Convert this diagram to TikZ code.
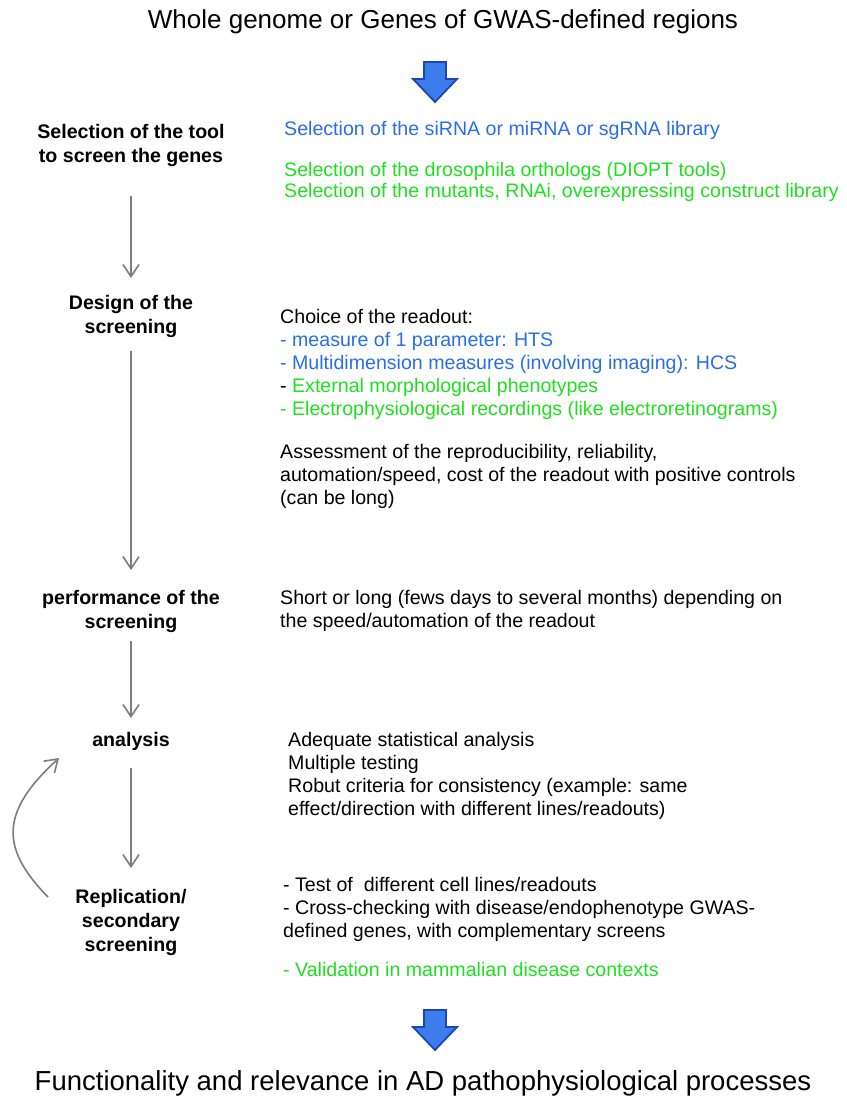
\documentclass[tikz,border=0pt]{standalone}
\usepackage{fontspec}
\setmainfont{Liberation Sans}
\usetikzlibrary{arrows.meta}
\definecolor{txtblue}{RGB}{40,110,235}
\definecolor{txtgreen}{RGB}{30,225,30}
\definecolor{arrfill}{RGB}{60,125,235}
\definecolor{arrline}{RGB}{25,70,190}
\definecolor{flowgray}{RGB}{125,125,125}

\begin{document}
\begin{tikzpicture}[x=1pt,y=-1pt,>={Straight Barb[length=12pt,width=16pt]},
  every node/.style={inner sep=0pt},
  headline/.style={font=\fontsize{26}{30}\selectfont,anchor=base},
  stage/.style={font=\fontsize{19.6}{24}\selectfont\bfseries,align=center,anchor=north},
  info/.style={font=\fontsize{19.6}{23}\selectfont,align=left,anchor=north west},
  flow/.style={draw=flowgray,line width=1.6pt,->},
  bigarrow/.style={fill=arrfill,draw=arrline,line width=1.8pt}]
  \useasboundingbox (0,0) rectangle (846,1103);
  % titles and block arrows
  \node[headline] (genome) at (443,28) {Whole genome or Genes of GWAS-defined regions};
  \node[headline,font=\fontsize{27.5}{30}\selectfont] (relevance) at (423,1090) {Functionality and relevance in AD pathophysiological processes};
  \foreach \yy in {62,1010}
    \filldraw[bigarrow] (424,\yy) -- ++(22,0) -- ++(0,17) -- ++(11,0) -- ++(-22,23) -- ++(-22,-23) -- ++(11,0) -- cycle;
  % steps on the left
  \node[stage] (sel) at (131,124) {Selection of the tool\\to screen the genes};
  \node[stage] (des) at (131,295) {Design of the\\screening};
  \node[stage] (perf) at (131,590) {performance of the\\screening};
  \node[stage] (ana) at (131,732) {analysis};
  \node[stage] (repl) at (131,889) {Replication/\\secondary\\screening};
  \draw[flow,shorten <=29pt,shorten >=17pt] (sel) -- (des);
  \draw[flow,shorten <=13pt,shorten >=20pt] (des) -- (perf);
  \draw[flow,shorten <=8pt,shorten >=14pt] (perf) -- (ana);
  \draw[flow,shorten <=17pt,shorten >=21pt] (ana) -- (repl);
  \coordinate (loopfrom) at (48,897);
  \coordinate (loopto) at (59,758);
  \draw[flow] (loopfrom) .. controls (0,848) and (0,812) .. (loopto);
  % details on the right
  \node[info,text=txtblue] (libcell) at (284,121) {Selection of the siRNA or miRNA or sgRNA library};
  \node[info,text=txtgreen,font=\fontsize{19.6}{21}\selectfont] (libfly) at (284,162)
    {Selection of the drosophila orthologs (DIOPT tools)\\Selection of the mutants, RNAi, overexpressing construct library};
  \node[info] (readout) at (280,309) {Choice of the readout:\\
    \textcolor{txtblue}{- measure of 1 parameter: HTS}\\
    \textcolor{txtblue}{- Multidimension measures (involving imaging): HCS}\\
    - \textcolor{txtgreen}{External morphological phenotypes}\\
    \textcolor{txtgreen}{- Electrophysiological recordings (like electroretinograms)}\\[20pt]
    Assessment of the reproducibility, reliability,\\
    automation/speed, cost of the readout with positive controls\\
    (can be long)};
  \node[info] (duration) at (280,590) {Short or long (fews days to several months) depending on\\the speed/automation of the readout};
  \node[info] (stats) at (288,732) {Adequate statistical analysis\\Multiple testing\\Robut criteria for consistency (example: same\\effect/direction with different lines/readouts)};
  \node[info] (checks) at (283,877) {- Test of\ \ different cell lines/readouts\\
    - Cross-checking with disease/endophenotype GWAS-\\
    defined genes, with complementary screens\\[16pt]
    \textcolor{txtgreen}{- Validation in mammalian disease contexts}};
\end{tikzpicture}
\end{document}
